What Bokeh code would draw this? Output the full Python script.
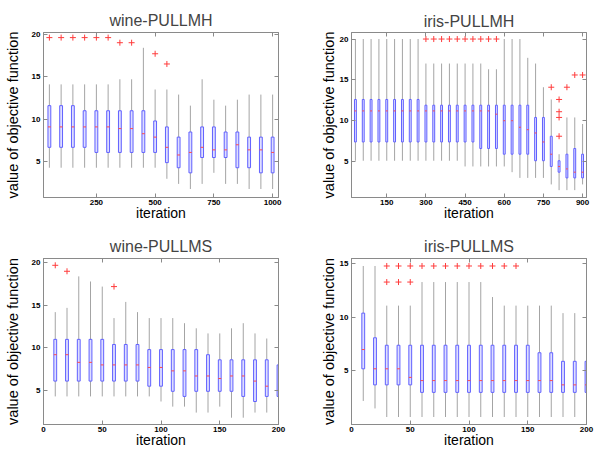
from bokeh.plotting import figure
from bokeh.layouts import column, row
from bokeh.models import Range1d, FixedTicker, LinearAxis, CustomJSTickFormatter
from bokeh.embed import file_html
from bokeh.resources import INLINE

FONT = "Liberation Sans"

# ---------------- wine-PULLMH ----------------
wmh_x = [50, 100, 150, 200, 250, 300, 350, 400, 450, 500,
         550, 600, 650, 700, 750, 800, 850, 900, 950, 1000]
wmh_lo = [4.3, 4.3, 4.3, 4.3, 4.3, 4.3, 4.3, 4.3, 4.3, 4.3,
          3.0, 2.4, 1.8, 2.4, 3.7, 2.4, 2.4, 1.8, 1.8, 1.8]
wmh_q1 = [6.7, 6.7, 6.7, 6.7, 6.1, 6.1, 6.1, 6.1, 6.1, 6.1,
          4.9, 4.3, 3.7, 5.5, 5.5, 5.5, 4.3, 4.3, 3.7, 3.7]
wmh_med = [9.1, 9.1, 9.1, 9.1, 9.1, 9.1, 8.9, 8.9, 8.3, 7.9,
           6.7, 5.8, 6.1, 6.7, 6.4, 6.4, 7.0, 6.4, 6.4, 6.1]
wmh_q3 = [11.6, 11.6, 11.6, 11.0, 11.0, 11.0, 11.0, 11.0, 11.0, 9.8,
          9.1, 7.9, 8.5, 9.1, 9.1, 8.5, 8.5, 7.9, 7.9, 7.9]
wmh_hi = [14.1, 14.1, 14.1, 14.1, 14.1, 14.1, 14.7, 14.7, 18.4, 13.5,
          13.5, 12.9, 11.6, 14.7, 12.3, 11.6, 12.3, 12.9, 12.9, 12.9]
wmh_out_x = [50, 100, 150, 200, 250, 300, 350, 400, 500, 550]
wmh_out_y = [19.6, 19.6, 19.6, 19.6, 19.6, 19.6, 19.0, 19.0, 17.7, 16.5]
wmh_xticks = [250, 500, 750, 1000]
wmh_yticks = [5, 10, 15, 20]

# ---------------- iris-PULLMH ----------------
imh_x = [30, 60, 90, 120, 150, 180, 210, 240, 270, 300,
         330, 360, 390, 420, 450, 480, 510, 540, 570, 600,
         630, 660, 690, 720, 750, 780, 810, 840, 870, 900]
imh_lo = [5.1, 5.1, 5.1, 5.1, 5.1, 5.1, 5.1, 5.1, 5.1, 5.1,
          5.1, 5.1, 5.1, 5.1, 4.4, 4.4, 4.4, 4.4, 4.4, 4.4,
          3.7, 3.0, 3.0, 3.0, 3.0, 2.2, 1.5, 1.5, 1.5, 2.2]
imh_q1 = [7.4, 7.4, 7.4, 7.4, 7.4, 7.4, 7.4, 7.4, 7.4, 7.4,
          7.4, 7.4, 7.4, 7.4, 7.4, 7.4, 6.6, 6.6, 6.6, 5.9,
          5.9, 5.9, 5.9, 5.1, 5.1, 4.4, 3.7, 3.0, 3.0, 3.0]
imh_med = [11.2, 11.2, 11.2, 11.2, 11.2, 11.2, 11.2, 11.2, 11.2, 11.2,
           11.2, 11.2, 11.2, 11.2, 11.2, 11.2, 11.2, 11.2, 10.8, 10.0,
           10.0, 9.2, 8.9, 8.5, 7.4, 5.9, 4.4, 4.1, 3.7, 3.7]
imh_q3 = [12.6, 12.6, 12.6, 12.6, 12.6, 12.6, 12.6, 12.6, 12.6, 11.9,
          11.9, 11.9, 11.9, 11.9, 11.9, 11.9, 11.9, 11.9, 11.9, 11.9,
          11.9, 11.9, 11.9, 10.4, 10.4, 8.1, 5.1, 5.9, 6.6, 5.9]
imh_hi = [20.0, 20.0, 20.0, 20.0, 20.0, 20.0, 20.0, 20.0, 20.0, 17.0,
          17.0, 17.0, 17.0, 17.0, 17.0, 17.0, 17.0, 16.3, 16.3, 20.0,
          20.0, 20.0, 17.7, 17.0, 14.1, 12.6, 5.9, 10.4, 10.4, 9.6]
imh_out_x = [300, 330, 360, 390, 420, 450, 480, 510, 540, 570,
             780, 810, 810, 810, 810, 840, 870, 900]
imh_out_y = [20.0, 20.0, 20.0, 20.0, 20.0, 20.0, 20.0, 20.0, 20.0, 20.0,
             14.1, 12.6, 11.1, 10.4, 8.1, 14.1, 15.6, 15.6]
imh_xticks = [150, 300, 450, 600, 750, 900]
imh_yticks = [5, 10, 15, 20]

# ---------------- wine-PULLMS ----------------
wms_x = [10, 20, 30, 40, 50, 60, 70, 80, 90, 100,
         110, 120, 130, 140, 150, 160, 170, 180, 190, 200]
wms_lo = [4.3, 4.3, 4.3, 4.3, 4.3, 4.3, 4.3, 4.3, 4.3, 3.7,
          3.1, 3.1, 2.4, 2.4, 3.1, 1.8, 1.8, 2.4, 2.4, 2.4]
wms_q1 = [6.1, 6.1, 6.1, 6.1, 6.1, 6.1, 6.1, 6.1, 5.5, 5.5,
          4.9, 4.3, 4.9, 4.9, 4.9, 4.9, 4.3, 3.7, 4.3, 4.3]
wms_med = [9.2, 9.2, 8.3, 8.3, 8.0, 8.0, 8.0, 8.0, 7.7, 7.7,
           7.3, 7.3, 6.7, 6.7, 6.4, 6.7, 6.7, 6.1, 5.5, 5.0]
wms_q3 = [11.0, 11.0, 11.0, 11.0, 11.0, 10.4, 10.4, 10.4, 9.8, 9.8,
          9.8, 9.8, 9.8, 9.2, 8.6, 8.6, 8.6, 8.6, 8.6, 8.0]
wms_hi = [14.2, 14.7, 18.4, 17.8, 17.2, 13.5, 15.4, 14.2, 13.5, 13.5,
          13.5, 12.9, 12.3, 11.7, 11.7, 12.3, 12.9, 11.7, 11.1, 11.1]
wms_out_x = [10, 20, 60]
wms_out_y = [19.7, 19.0, 17.2]
wms_xticks = [0, 50, 100, 150, 200]
wms_yticks = [5, 10, 15, 20]

# ---------------- iris-PULLMS ----------------
ims_x = [10, 20, 30, 40, 50, 60, 70, 80, 90, 100,
         110, 120, 130, 140, 150, 160, 170, 180, 190, 200]
ims_lo = [2.2, 1.5, 0.7, 0.7, 0.7, 0.7, 0.7, 0.7, 0.7, 0.7,
          0.7, 0.7, 0.7, 0.7, 0.7, 0.7, 0.7, 0.7, 0.7, 0.7]
ims_q1 = [5.2, 3.7, 3.7, 3.7, 3.7, 3.0, 3.0, 3.0, 3.0, 3.0,
          3.0, 3.0, 3.0, 3.0, 3.0, 3.0, 3.0, 3.0, 3.0, 3.0]
ims_med = [7.0, 5.2, 5.2, 5.2, 4.4, 4.1, 4.1, 4.1, 4.1, 4.1,
           4.1, 4.1, 4.1, 4.1, 4.1, 4.1, 4.1, 3.7, 3.7, 3.7]
ims_q3 = [10.4, 8.1, 7.4, 7.4, 7.4, 7.4, 7.4, 7.4, 7.4, 7.4,
          7.4, 7.4, 7.4, 7.4, 7.4, 6.7, 6.7, 5.9, 5.9, 5.9]
ims_hi = [14.8, 14.8, 11.1, 11.1, 11.1, 13.3, 13.3, 13.3, 13.3, 13.3,
          13.3, 11.9, 11.1, 11.1, 11.1, 11.1, 11.1, 10.4, 10.4, 10.4]
ims_out_x = [30, 40, 50, 60, 70, 80, 90, 100, 110, 120, 130, 140, 30, 40, 50]
ims_out_y = [14.8] * 12 + [13.3, 13.3, 13.3]
ims_xticks = [0, 50, 100, 150, 200]
ims_yticks = [5, 10, 15]

AX = "#8a8a8a"


def blank_axis(ticks):
    return LinearAxis(ticker=FixedTicker(ticks=ticks),
                      formatter=CustomJSTickFormatter(code="return ''"),
                      major_tick_in=4, major_tick_out=0,
                      minor_tick_line_color=None,
                      major_label_standoff=0,
                      major_label_text_font_size="0px",
                      axis_line_color=AX, major_tick_line_color=AX)


def make_panel(title, xs, lo, q1, med, q3, hi, ox, oy, xr, yr, xticks, yticks,
               step, w, h, bl, br, bt, bb, title_standoff, ylab_standoff):
    p = figure(width=w, height=h, title=title,
               x_range=Range1d(*xr), y_range=Range1d(*yr),
               output_backend="svg", toolbar_location=None,
               min_border_left=bl, min_border_right=br,
               min_border_top=bt, min_border_bottom=bb)
    p.grid.visible = False
    p.outline_line_color = AX
    p.background_fill_color = "white"
    p.border_fill_color = "white"

    p.title.text_font = FONT
    p.title.text_font_size = "16px"
    p.title.text_font_style = "normal"
    p.title.align = "center"
    p.title.standoff = title_standoff

    for ax, ticks in ((p.xaxis, xticks), (p.yaxis, yticks)):
        ax.ticker = FixedTicker(ticks=ticks)
        ax.major_label_text_font = FONT
        ax.major_label_text_font_size = "8px"
        ax.major_label_text_font_style = "bold"
        ax.major_label_text_color = "black"
        ax.major_tick_in = 4
        ax.major_tick_out = 0
        ax.major_tick_line_color = AX
        ax.minor_tick_line_color = None
        ax.axis_line_color = AX
        ax.axis_label_text_font = FONT
        ax.axis_label_text_font_style = "normal"
        ax.axis_label_text_color = "black"
    p.xaxis.axis_label = "iteration"
    p.xaxis.axis_label_text_font_size = "14px"
    p.xaxis.major_label_standoff = 2
    p.xaxis.axis_label_standoff = -3
    p.yaxis.axis_label = "value of objective function"
    p.yaxis.axis_label_text_font_size = "14.5px"
    p.yaxis.major_label_standoff = 3
    p.yaxis.axis_label_standoff = ylab_standoff

    p.add_layout(blank_axis(xticks), "above")
    p.add_layout(blank_axis(yticks), "right")

    bw = step * 0.24
    p.segment(x0=xs, y0=q3, x1=xs, y1=hi, line_color="#a4a4a4", line_width=1)
    p.segment(x0=xs, y0=lo, x1=xs, y1=q1, line_color="#a4a4a4", line_width=1)
    p.vbar(x=xs, width=bw, bottom=q1, top=q3,
           fill_color="#dedeff", line_color="#6060ff", line_width=1)
    p.segment(x0=[x - bw / 2 for x in xs], y0=med, x1=[x + bw / 2 for x in xs], y1=med,
              line_color="#ff4a4a", line_width=1)
    p.scatter(ox, oy, marker="cross", size=6, line_color="#ff3c3c", line_width=1)
    return p


p1 = make_panel("wine-PULLMH", wmh_x, wmh_lo, wmh_q1, wmh_med, wmh_q3, wmh_hi,
                wmh_out_x, wmh_out_y, (25, 1025), (0.8, 20.2), wmh_xticks, wmh_yticks,
                50, 297, 225, 43, 19, 32, 27, 8, 8)
p2 = make_panel("iris-PULLMH", imh_x, imh_lo, imh_q1, imh_med, imh_q3, imh_hi,
                imh_out_x, imh_out_y, (15, 915), (0.6, 20.8), imh_xticks, imh_yticks,
                30, 297, 225, 54, 8, 27, 28, 6, 0)
p3 = make_panel("wine-PULLMS", wms_x, wms_lo, wms_q1, wms_med, wms_q3, wms_hi,
                wms_out_x, wms_out_y, (0, 200), (1.0, 20.5), wms_xticks, wms_yticks,
                10, 297, 226, 43, 19, 32, 27, 7, 8)
p4 = make_panel("iris-PULLMS", ims_x, ims_lo, ims_q1, ims_med, ims_q3, ims_hi,
                ims_out_x, ims_out_y, (0, 200), (0.0, 15.5), ims_xticks, ims_yticks,
                10, 297, 226, 54, 8, 33, 27, 7, 0)

layout = column(row(p1, p2), row(p3, p4))

open("out.html", "w").write(file_html(layout, INLINE))
